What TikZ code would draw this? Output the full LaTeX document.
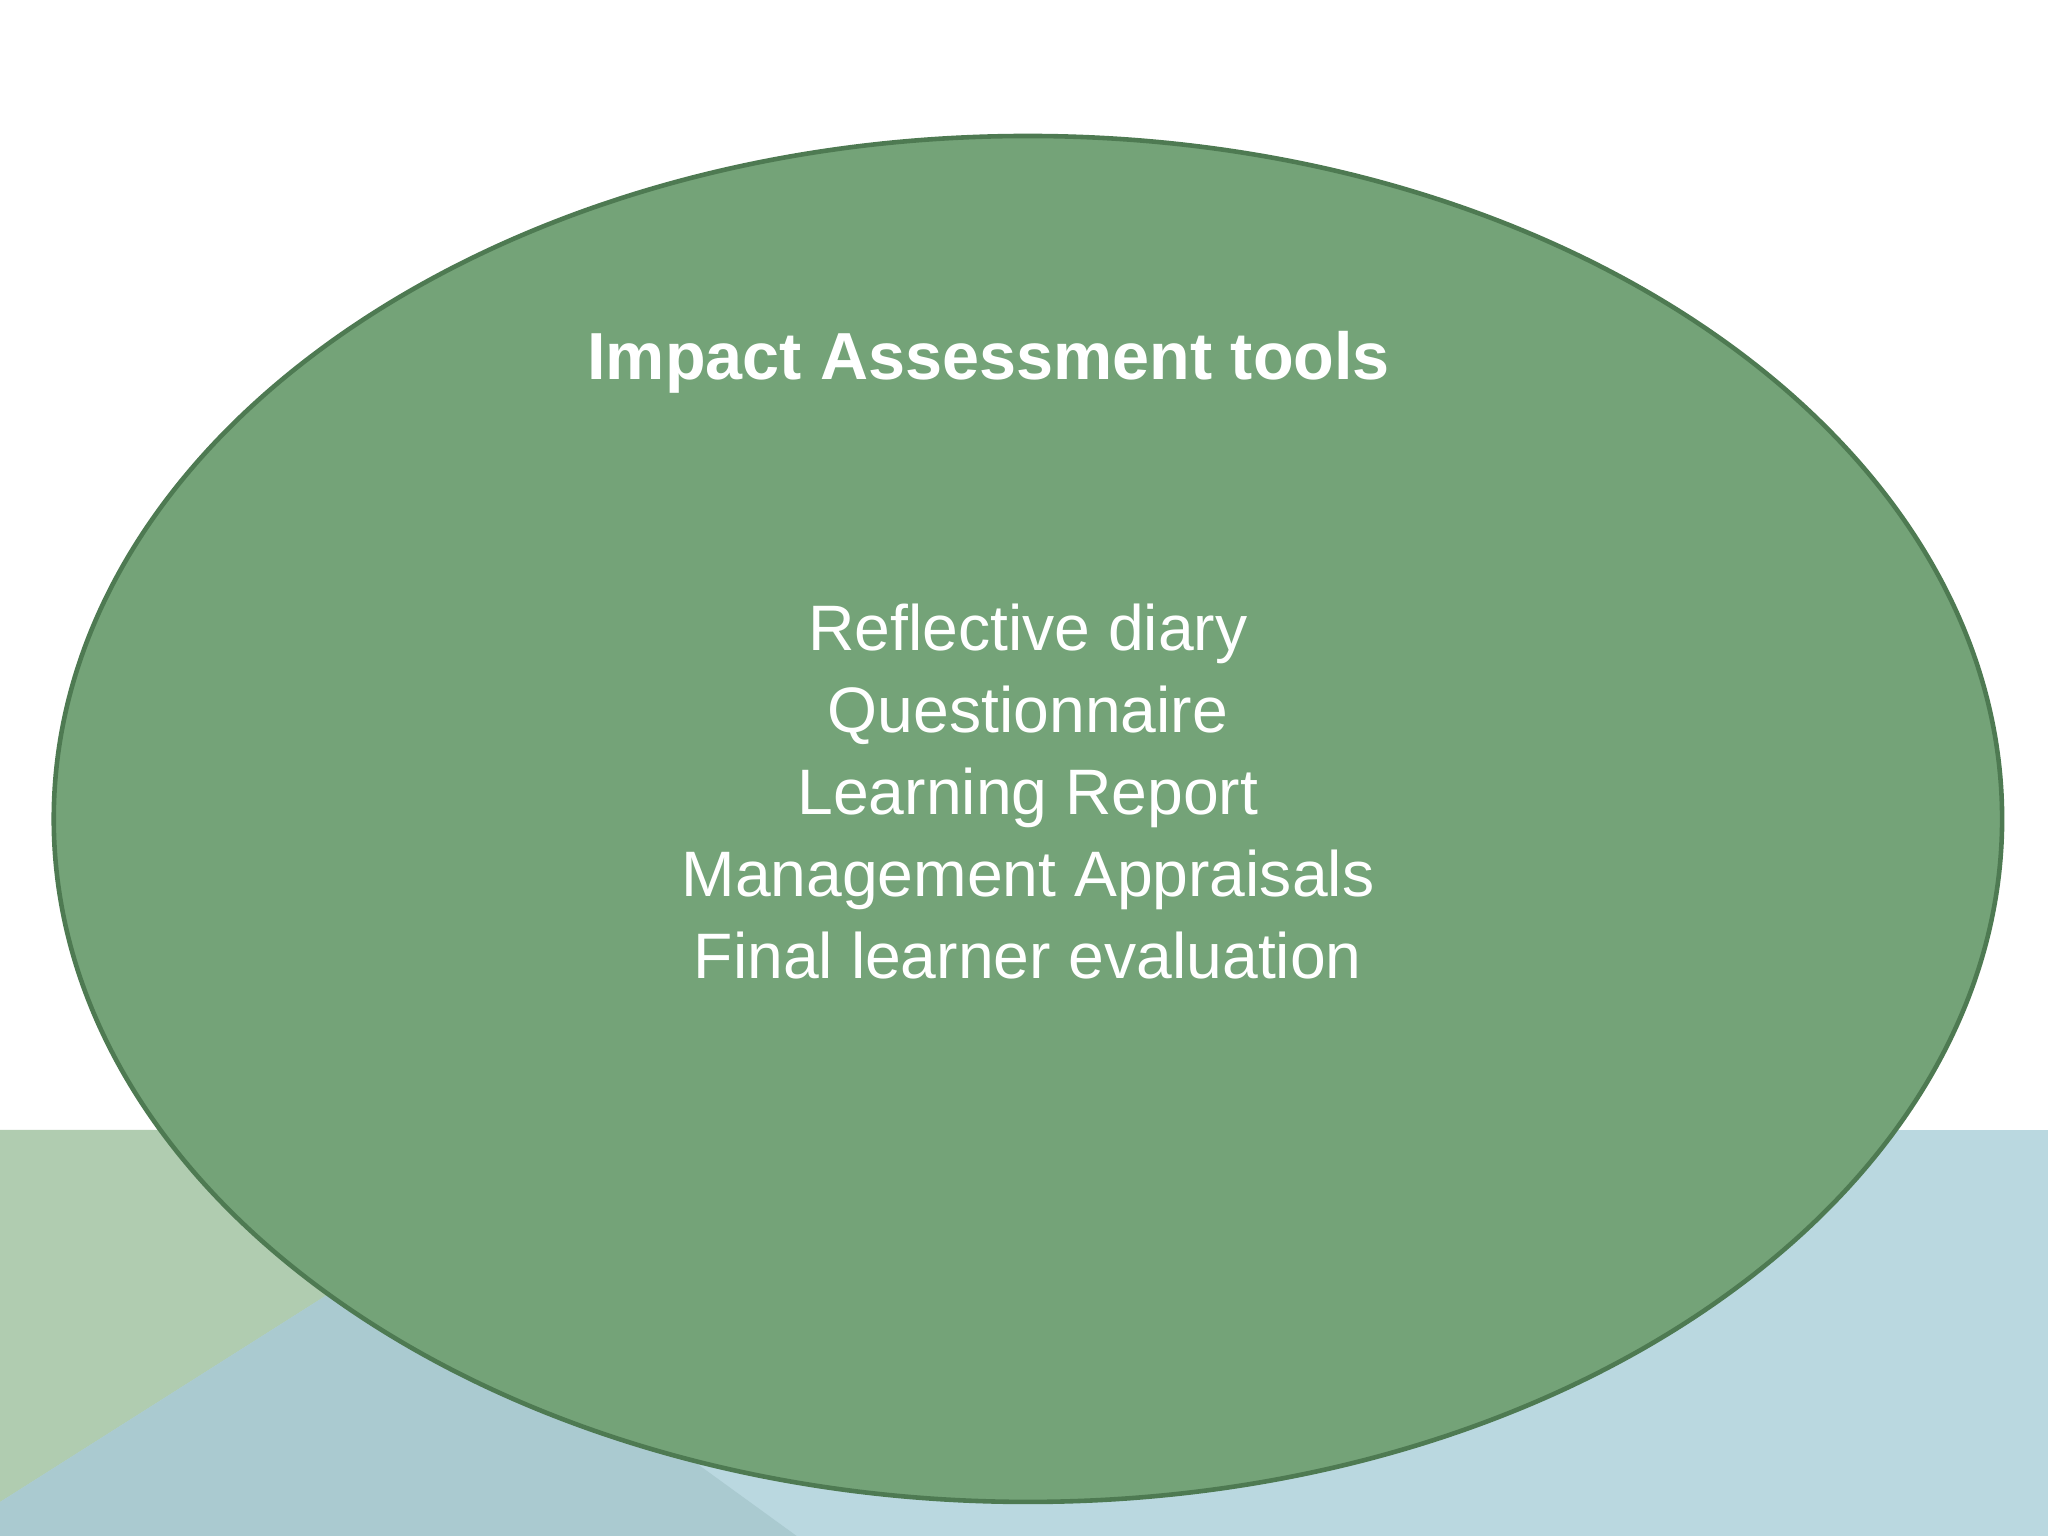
\documentclass[tikz,border=0pt]{standalone}
\usepackage{fontspec}
\usetikzlibrary{shapes.geometric}
\setmainfont{Liberation Sans}
\definecolor{bgGreen}{HTML}{B0CCB0}
\definecolor{bgBlue}{HTML}{BAD8E0}
\definecolor{bgBlue2}{HTML}{AACAD0}
\definecolor{ellFill}{HTML}{74A378}
\definecolor{ellLine}{HTML}{4E7A52}
\tikzset{
  title/.style={text=white,font=\fontsize{29}{34}\selectfont\bfseries,anchor=center},
  items/.style={text=white,font=\fontsize{28}{35.7}\selectfont,align=center,anchor=center}
}
\begin{document}
\begin{tikzpicture}[x=0.02cm,y=-0.02cm]
\useasboundingbox (0,0) rectangle (1568,1176);
\fill[white] (0,0) rectangle (1568,1176);
\fill[bgBlue] (0,865) rectangle (1568,1176);
\fill[bgGreen] (0,865) -- (130,865) -- (300,960) -- (0,1150) -- cycle;
\fill[bgBlue2] (0,1150) -- (300,960) -- (450,1060) -- (610,1176) -- (0,1176) -- cycle;
\node[ellipse,draw=ellLine,line width=2pt,fill=ellFill,minimum width=29.84cm,minimum height=20.92cm,inner sep=0pt] (ell) at (787,627) {};
\node[title] (t) at (757,277) {Impact Assessment tools};
\node[items] (list) at (787,606) {Reflective diary\\Questionnaire\\Learning Report\\Management Appraisals\\Final learner evaluation};
\end{tikzpicture}
\end{document}
